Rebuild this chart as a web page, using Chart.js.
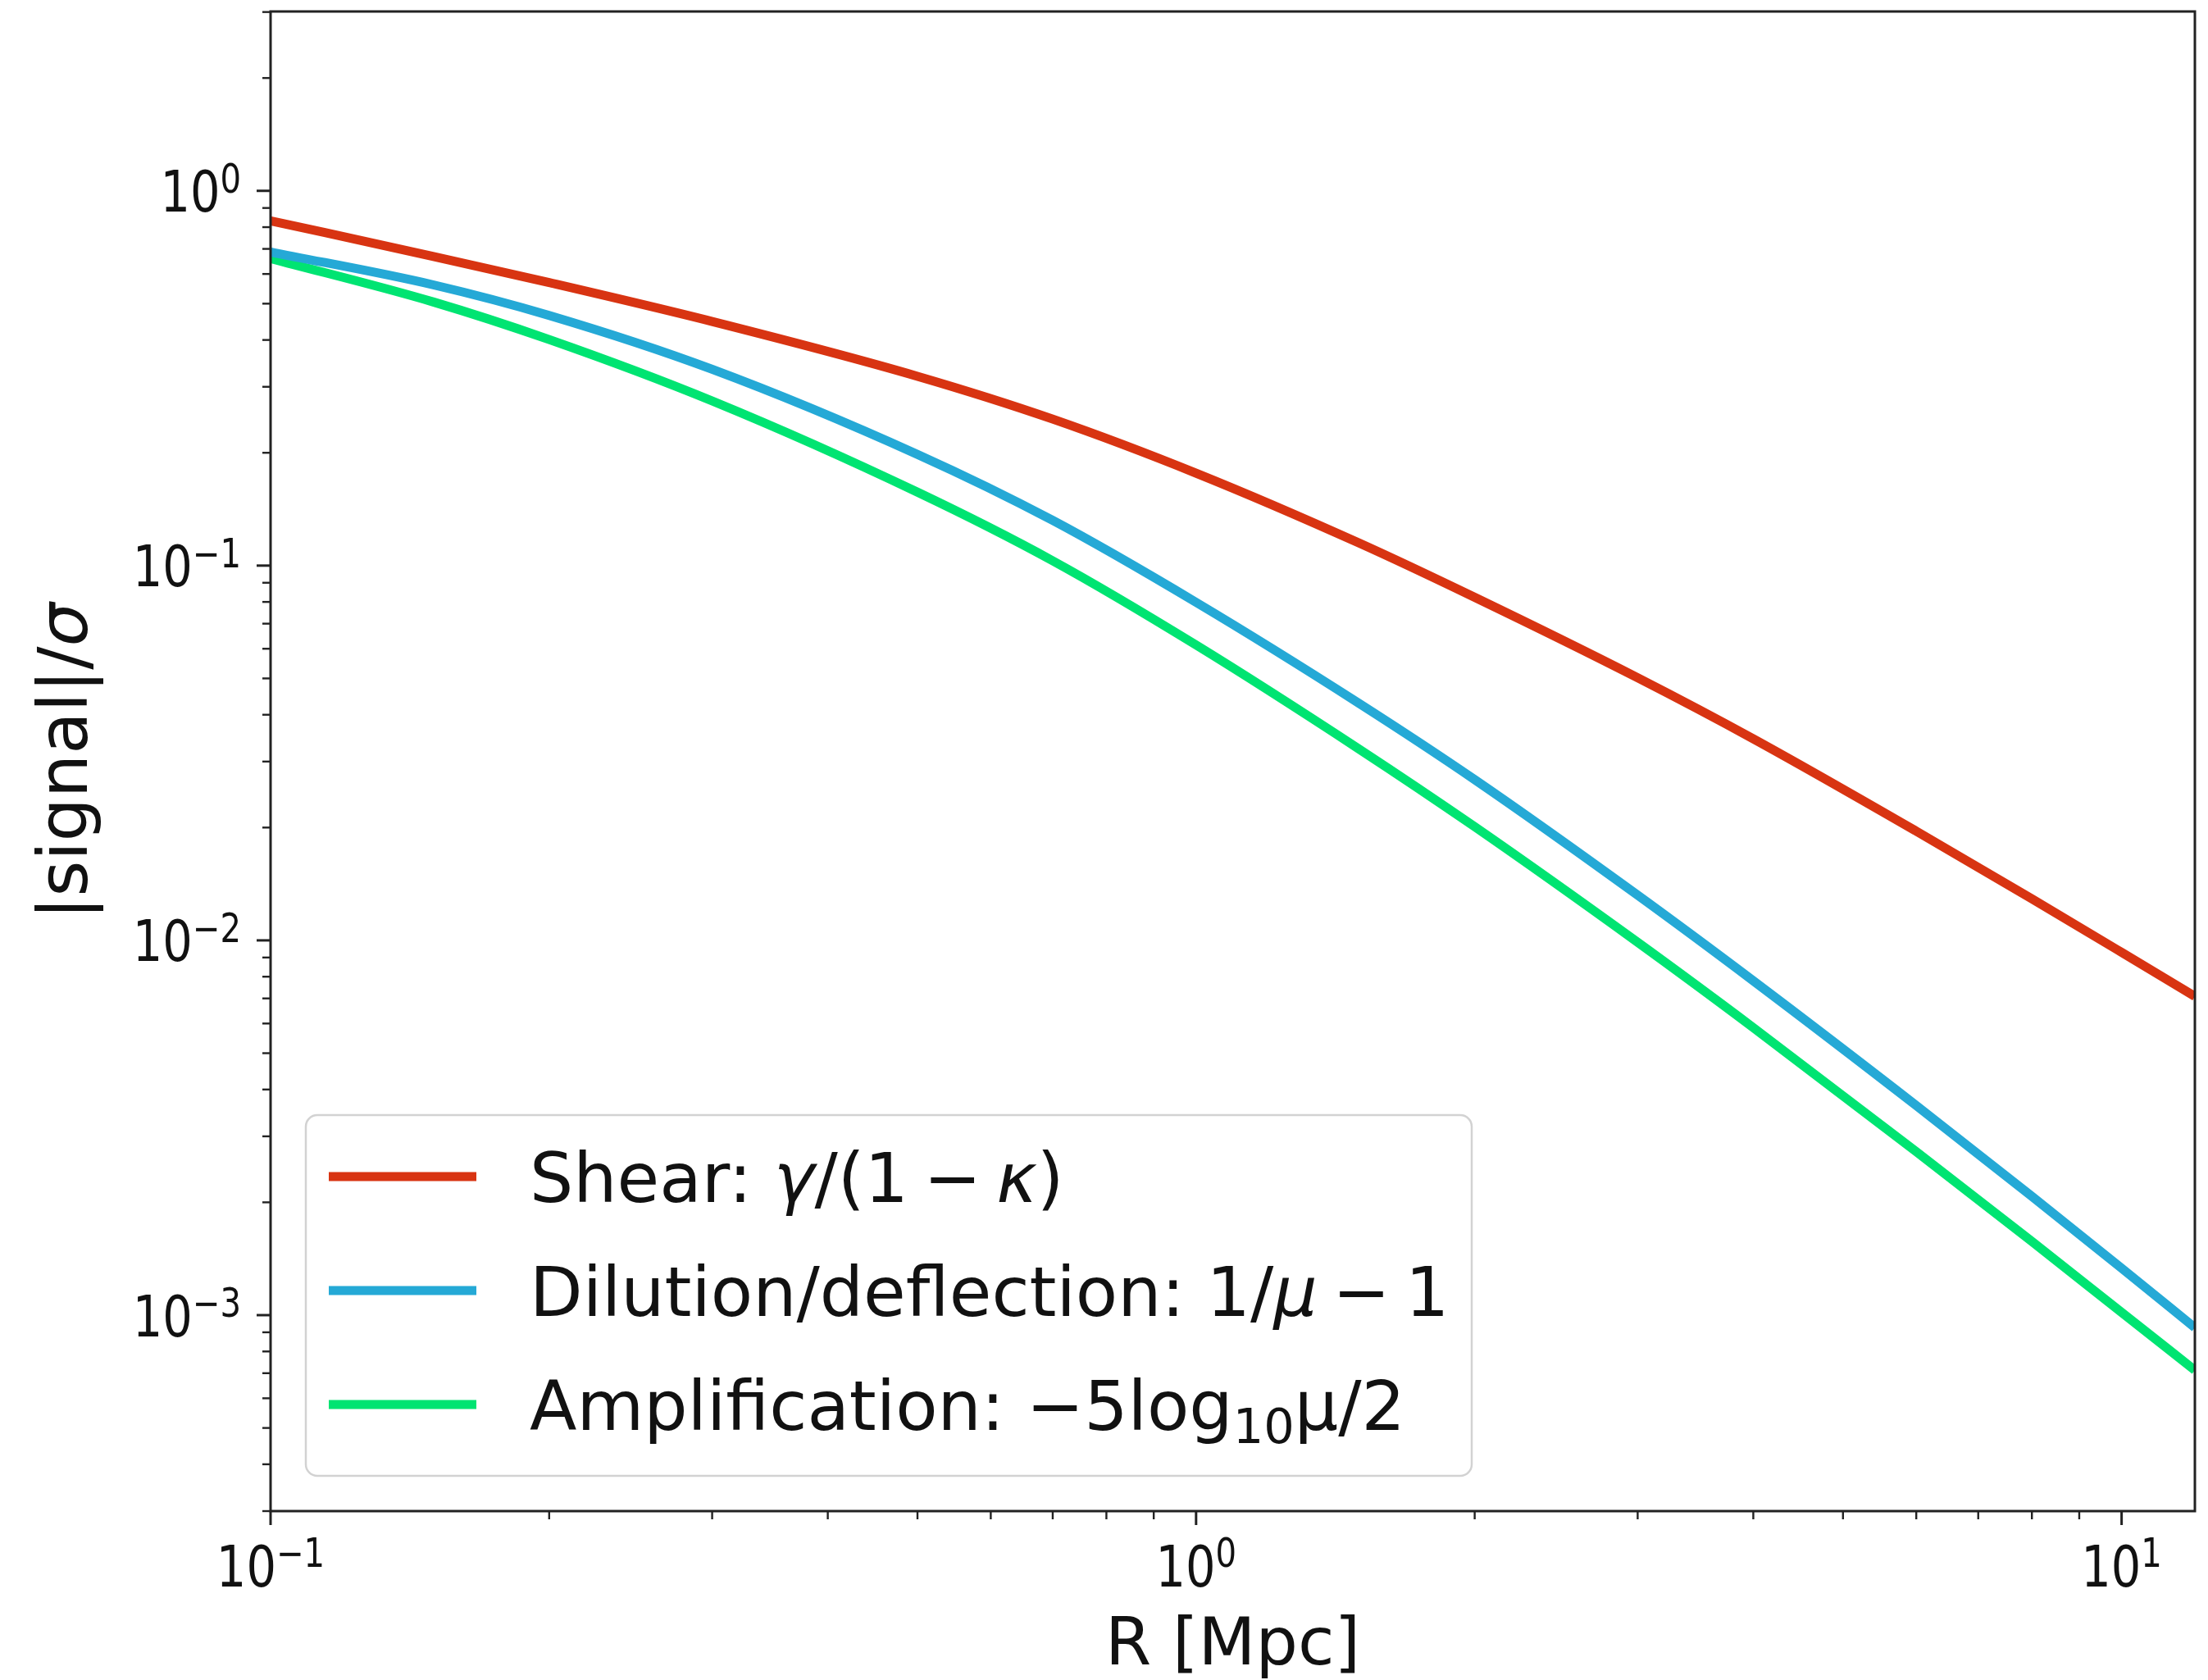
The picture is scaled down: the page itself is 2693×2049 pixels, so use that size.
<!DOCTYPE html>
<html>
<head>
<meta charset="utf-8">
<title>|signal|/sigma vs R</title>
<script src="https://cdn.jsdelivr.net/npm/chart.js@4.4.1/dist/chart.umd.min.js"></script>
<style>
    html, body { margin: 0; padding: 0; background: #ffffff; }
    canvas { display: block; }
</style>
</head>
<body>
<canvas id="signalChart" width="2693" height="2049"></canvas>
<script>
// ================= Data =================
const radius = [0.1, 0.15, 0.2, 0.3, 0.5, 0.7, 1, 1.5, 2, 3, 4, 6, 8, 10, 12];
const shearSignal = [0.832, 0.668, 0.569, 0.448, 0.320, 0.246, 0.1765, 0.1149, 0.0823, 0.0502, 0.0345, 0.01956, 0.0129, 0.00929, 0.00709];
const dilutionSignal = [0.687, 0.561, 0.465, 0.334, 0.198, 0.132, 0.0798, 0.0429, 0.02685, 0.0132, 0.0078, 0.003625, 0.002075, 0.001334, 0.000926];
const amplificationSignal = [0.66, 0.505, 0.401, 0.275, 0.157, 0.103, 0.0614, 0.0324, 0.0201, 0.00988, 0.00585, 0.00273, 0.001572, 0.001017, 0.000713];

const seriesLabels = ["Shear: γ/(1 − κ)", "Dilution/deflection: 1/μ − 1", "Amplification: −5log₁₀μ/2"];
const seriesColors = ["#D83412", "#25A9D6", "#00E472"];

const xTickValues = [0.1, 1, 10];
const xTickExponents = ["−1", "0", "1"];
const yTickValues = [1, 0.1, 0.01, 0.001];
const yTickExponents = ["0", "−1", "−2", "−3"];

const xTitle = "R [Mpc]";
const yTitle = ["|signal|/", "σ"];

// ================= Look =================
const FAMILY = '"DejaVu Sans", sans-serif';
const TEXT = "#111111";
const TICK_FONT = 70;
const SQUEEZE = 0.82;
const LABEL_FONT = 81;
const LEGEND_FONT = 84;

// legend text pieces: n = normal, i = italic, s = subscript, g = gap (em)
const legendPieces = [
    [["n", "Shear: "], ["i", "γ"], ["n", "/(1"], ["g", 0.22], ["n", "−"], ["g", 0.22], ["i", "κ"], ["n", ")"]],
    [["n", "Dilution/deflection: 1/"], ["i", "μ"], ["g", 0.22], ["n", "−"], ["g", 0.22], ["n", "1"]],
    [["n", "Amplification: −5log"], ["s", "10"], ["n", "μ/2"]]
];

// ================= Utility =================
function pieceFont(kind, size) {
    if (kind === "i") return "italic " + size + "px " + FAMILY;
    if (kind === "s") return Math.round(size * 0.7) + "px " + FAMILY;
    return size + "px " + FAMILY;
}

function drawPieces(ctx, pieces, x, baseline, size) {
    let cx = x;
    pieces.forEach(p => {
        if (p[0] === "g") { cx += p[1] * size; return; }
        ctx.font = pieceFont(p[0], size);
        const dy = p[0] === "s" ? size * 0.2 : 0;
        ctx.fillText(p[1], cx, baseline + dy);
        cx += ctx.measureText(p[1]).width;
    });
    return cx - x;
}

function measurePieces(ctx, pieces, size) {
    let w = 0;
    pieces.forEach(p => {
        if (p[0] === "g") { w += p[1] * size; return; }
        ctx.font = pieceFont(p[0], size);
        w += ctx.measureText(p[1]).width;
    });
    return w;
}

function drawPower(ctx, exponent, x, yMid, align) {
    const supSize = Math.round(TICK_FONT * 0.7);
    ctx.font = TICK_FONT + "px " + FAMILY;
    const wBase = ctx.measureText("10").width;
    ctx.font = supSize + "px " + FAMILY;
    const wSup = ctx.measureText(exponent).width;
    const total = (wBase + wSup) * SQUEEZE;
    const left = align === "right" ? x - total : x - total / 2;
    const baseline = yMid + TICK_FONT * 0.729 / 2;
    ctx.save();
    ctx.translate(left, baseline);
    ctx.scale(SQUEEZE, 1);
    ctx.textAlign = "left";
    ctx.textBaseline = "alphabetic";
    ctx.font = TICK_FONT + "px " + FAMILY;
    ctx.fillText("10", 0, 0);
    ctx.font = supSize + "px " + FAMILY;
    ctx.fillText(exponent, wBase, -TICK_FONT * 0.33);
    ctx.restore();
}

function minorValues(min, max) {
    const out = [];
    for (let e = Math.floor(Math.log10(min)); e <= Math.ceil(Math.log10(max)); e++) {
        for (let k = 2; k <= 9; k++) {
            const v = k * Math.pow(10, e);
            if (v > min && v < max) out.push(v);
        }
    }
    return out;
}

// ================= Axes, ticks, titles, legend =================
const mplAxes = {
    id: "mplAxes",
    afterDatasetsDraw(chart) {
        const { ctx, chartArea: a } = chart;
        const xs = chart.scales.x, ys = chart.scales.y;
        ctx.save();
        ctx.strokeStyle = "#222222";
        ctx.fillStyle = TEXT;

        // minor ticks
        ctx.lineWidth = 2.4;
        minorValues(xs.min, xs.max).forEach(v => {
            const px = xs.getPixelForValue(v);
            ctx.beginPath(); ctx.moveTo(px, a.bottom); ctx.lineTo(px, a.bottom + 10); ctx.stroke();
        });
        minorValues(ys.min, ys.max).forEach(v => {
            const py = ys.getPixelForValue(v);
            ctx.beginPath(); ctx.moveTo(a.left, py); ctx.lineTo(a.left - 10, py); ctx.stroke();
        });

        // major ticks + labels
        ctx.lineWidth = 3;
        xTickValues.forEach((v, i) => {
            const px = xs.getPixelForValue(v);
            ctx.beginPath(); ctx.moveTo(px, a.bottom); ctx.lineTo(px, a.bottom + 17); ctx.stroke();
            drawPower(ctx, xTickExponents[i], px, a.bottom + 66, "center");
        });
        yTickValues.forEach((v, i) => {
            const py = ys.getPixelForValue(v);
            ctx.beginPath(); ctx.moveTo(a.left, py); ctx.lineTo(a.left - 17, py); ctx.stroke();
            drawPower(ctx, yTickExponents[i], a.left - 36, py, "right");
        });

        // frame
        ctx.lineWidth = 3;
        ctx.strokeRect(a.left, a.top, a.right - a.left, a.bottom - a.top);

        // axis titles
        ctx.textBaseline = "alphabetic";
        ctx.textAlign = "center";
        ctx.font = LABEL_FONT + "px " + FAMILY;
        ctx.fillText(xTitle, (a.left + a.right) / 2, a.bottom + 187);

        ctx.save();
        ctx.translate(106, (a.top + a.bottom) / 2);
        ctx.rotate(-Math.PI / 2);
        ctx.textAlign = "left";
        const yPieces = [["n", yTitle[0]], ["i", yTitle[1]]];
        const yw = measurePieces(ctx, yPieces, LEGEND_FONT);
        drawPieces(ctx, yPieces, -yw / 2, 0, LEGEND_FONT);
        ctx.restore();

        // legend
        const box = { left: a.left + 43, top: 1360, right: 1795, bottom: 1800 };
        ctx.beginPath();
        ctx.roundRect(box.left, box.top, box.right - box.left, box.bottom - box.top, 14);
        ctx.fillStyle = "rgba(255,255,255,0.8)";
        ctx.fill();
        ctx.strokeStyle = "#d2d2d2";
        ctx.lineWidth = 2.5;
        ctx.stroke();

        const rowY = [1435, 1574, 1713];
        ctx.textAlign = "left";
        chart.data.datasets.forEach((ds, i) => {
            ctx.strokeStyle = ds.borderColor;
            ctx.lineWidth = ds.borderWidth;
            ctx.beginPath(); ctx.moveTo(401, rowY[i]); ctx.lineTo(581, rowY[i]); ctx.stroke();
            ctx.fillStyle = TEXT;
            drawPieces(ctx, legendPieces[i], 646, rowY[i] + LEGEND_FONT * 0.729 / 2, LEGEND_FONT);
        });
        ctx.restore();
    }
};

// ================= Chart =================
const seriesValues = [shearSignal, dilutionSignal, amplificationSignal];

new Chart(document.getElementById("signalChart").getContext("2d"), {
    type: "line",
    data: {
        datasets: seriesValues.map((vals, i) => ({
            label: seriesLabels[i],
            data: radius.map((r, j) => ({ x: r, y: vals[j] })),
            borderColor: seriesColors[i],
            borderWidth: 11,
            pointRadius: 0,
            cubicInterpolationMode: "monotone",
            fill: false
        }))
    },
    options: {
        responsive: false,
        devicePixelRatio: 1,
        animation: false,
        layout: { padding: { left: 330, top: 14, right: 16, bottom: 206 } },
        plugins: { legend: { display: false }, tooltip: { enabled: false } },
        scales: {
            x: { type: "logarithmic", min: 0.1, max: 12, display: false },
            y: { type: "logarithmic", min: 0.000315, max: 3.01, display: false }
        }
    },
    plugins: [mplAxes]
});
</script>
</body>
</html>
